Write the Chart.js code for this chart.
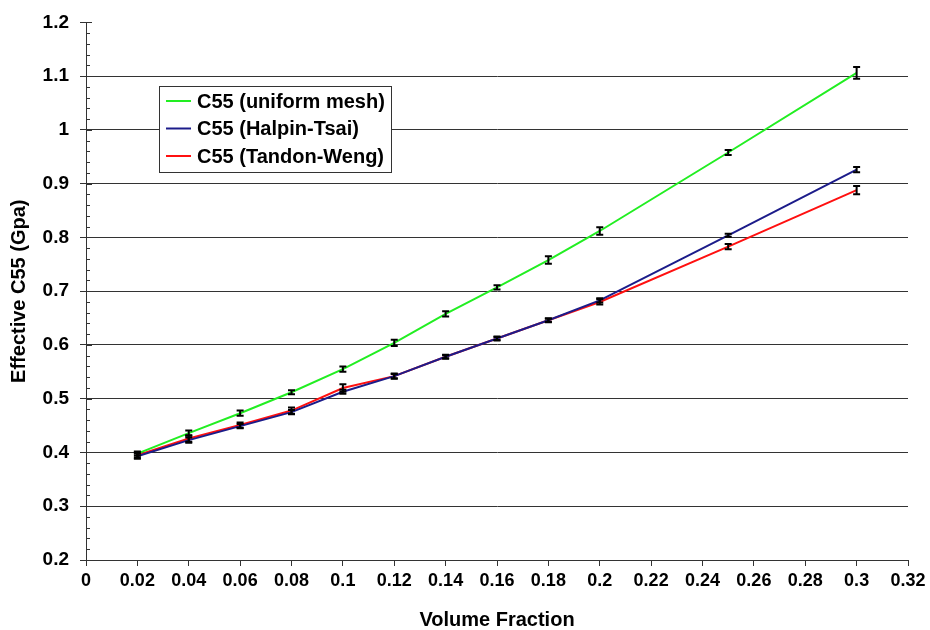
<!DOCTYPE html>
<html lang="en">
<head>
<meta charset="UTF-8">
<title>Effective C55 vs Volume Fraction</title>
<script src="https://cdn.jsdelivr.net/npm/chart.js"></script>
<style>
    body { margin: 0; background: #fff; }
    canvas { display: block; }
</style>
</head>
<body>
<canvas id="grafica" width="930" height="630"></canvas>
<script>
    // volume fractions sampled
    const fracciones = [0.02, 0.04, 0.06, 0.08, 0.1, 0.12, 0.14, 0.16, 0.18, 0.2, 0.25, 0.3];

    // effective C55 (GPa) per model
    const uniforme = [0.398, 0.436, 0.473, 0.512, 0.555, 0.604, 0.658, 0.707, 0.758, 0.812, 0.958, 1.106];
    const halpinTsai = [0.393, 0.423, 0.449, 0.475, 0.513, 0.542, 0.578, 0.612, 0.646, 0.683, 0.804, 0.926];
    const tandonWeng = [0.395, 0.426, 0.451, 0.478, 0.520, 0.542, 0.578, 0.612, 0.646, 0.680, 0.783, 0.888];

    // half-width of error bars
    const errUniforme = [0.002, 0.003, 0.003, 0.002, 0.003, 0.004, 0.003, 0.002, 0.005, 0.005, 0.003, 0.009];
    const errHalpin = [0.003, 0.003, 0.002, 0.002, 0.002, 0.002, 0.001, 0.001, 0.001, 0.002, 0.001, 0.003];
    const errTandon = [0.003, 0.004, 0.003, 0.004, 0.005, 0.003, 0.002, 0.002, 0.002, 0.003, 0.003, 0.006];

    const nombres = ["C55 (uniform mesh)", "C55 (Halpin-Tsai)", "C55 (Tandon-Weng)"];
    const colores = ["#22ee22", "#1c1c8a", "#ff1010"];

    const FUENTE = '"Liberation Sans", Arial, sans-serif';

    function serie(valores) {
        return fracciones.map((x, i) => ({ x: x, y: valores[i] }));
    }

    const formato = v => String(+v.toFixed(2));

    // minor ticks, error bars and boxed legend
    const extras = {
        id: 'extras',
        afterDraw(chart) {
            const ctx = chart.ctx;
            const xs = chart.scales.x, ys = chart.scales.y;
            const area = chart.chartArea;

            ctx.save();
            ctx.strokeStyle = '#333';
            ctx.lineWidth = 1;
            ctx.beginPath();
            for (let k = 0; k <= 50; k++) {
                const v = 0.2 + k * 0.02;
                const py = Math.round(ys.getPixelForValue(v)) + 0.5;
                const largo = (k % 5 === 0) ? 6 : 4;
                ctx.moveTo(area.left, py);
                ctx.lineTo(area.left + largo, py);
            }
            ctx.stroke();

            // error bars
            const errores = [errUniforme, errHalpin, errTandon];
            const valores = [uniforme, halpinTsai, tandonWeng];
            ctx.strokeStyle = '#000';
            ctx.lineWidth = 2;
            errores.forEach((err, s) => {
                fracciones.forEach((x, i) => {
                    const px = xs.getPixelForValue(x);
                    const y1 = ys.getPixelForValue(valores[s][i] + err[i]);
                    const y2 = ys.getPixelForValue(valores[s][i] - err[i]);
                    ctx.beginPath();
                    ctx.moveTo(px, y1 - 1);
                    ctx.lineTo(px, y2 + 1);
                    ctx.moveTo(px - 3.5, y1 - 1);
                    ctx.lineTo(px + 3.5, y1 - 1);
                    ctx.moveTo(px - 3.5, y2 + 1);
                    ctx.lineTo(px + 3.5, y2 + 1);
                    ctx.stroke();
                });
            });

            // legend
            const lx = 159, ly = 86, lw = 232, lh = 86;
            ctx.fillStyle = '#fff';
            ctx.fillRect(lx, ly, lw, lh);
            ctx.strokeStyle = '#333';
            ctx.lineWidth = 1;
            ctx.strokeRect(lx + 0.5, ly + 0.5, lw, lh);
            ctx.font = 'bold 20px ' + FUENTE;
            ctx.textBaseline = 'middle';
            ctx.textAlign = 'left';
            chart.data.datasets.forEach((ds, i) => {
                const fy = 101 + i * 27.5;
                ctx.strokeStyle = ds.borderColor;
                ctx.lineWidth = 2;
                ctx.beginPath();
                ctx.moveTo(166, fy);
                ctx.lineTo(191, fy);
                ctx.stroke();
                ctx.fillStyle = '#000';
                ctx.fillText(ds.label, 197, fy + 1);
            });
            ctx.restore();
        }
    };

    new Chart(document.getElementById('grafica').getContext('2d'), {
        type: 'scatter',
        data: {
            datasets: [
                { label: nombres[0], data: serie(uniforme), borderColor: colores[0] },
                { label: nombres[1], data: serie(halpinTsai), borderColor: colores[1] },
                { label: nombres[2], data: serie(tandonWeng), borderColor: colores[2] }
            ].map(ds => Object.assign(ds, {
                showLine: true,
                borderWidth: 2,
                pointRadius: 0,
                fill: false,
                tension: 0
            }))
        },
        options: {
            responsive: false,
            animation: false,
            layout: { padding: { left: 0, right: 22, top: 22, bottom: 0 } },
            plugins: {
                legend: { display: false },
                tooltip: { enabled: false }
            },
            scales: {
                x: {
                    type: 'linear',
                    min: 0,
                    max: 0.32,
                    afterFit: a => { a.height = 70; },
                    ticks: {
                        stepSize: 0.02,
                        callback: formato,
                        color: '#000',
                        padding: 4,
                        maxRotation: 0,
                        autoSkip: false,
                        font: { family: FUENTE, size: 18, weight: 'bold' }
                    },
                    grid: { drawOnChartArea: false, drawTicks: true, tickLength: 6, color: '#333' },
                    border: { color: '#333', width: 1 },
                    title: {
                        display: true,
                        text: 'Volume Fraction',
                        color: '#000',
                        padding: { top: 0, bottom: 0 },
                        font: { family: FUENTE, size: 20, weight: 'bold', lineHeight: 1 }
                    }
                },
                y: {
                    min: 0.2,
                    max: 1.2,
                    afterFit: a => { a.width = 86; },
                    ticks: {
                        stepSize: 0.1,
                        callback: formato,
                        color: '#000',
                        padding: 11,
                        font: { family: FUENTE, size: 19, weight: 'bold' }
                    },
                    grid: {
                        color: c => (c.tick && c.tick.value > 1.19) ? 'rgba(0,0,0,0)' : '#333',
                        tickColor: '#333',
                        tickLength: 6,
                        lineWidth: 1
                    },
                    border: { color: '#333', width: 1 },
                    title: {
                        display: true,
                        text: 'Effective C55 (Gpa)',
                        color: '#000',
                        padding: { top: 9, bottom: 0 },
                        font: { family: FUENTE, size: 20, weight: 'bold', lineHeight: 1 }
                    }
                }
            }
        },
        plugins: [extras]
    });
</script>
</body>
</html>
